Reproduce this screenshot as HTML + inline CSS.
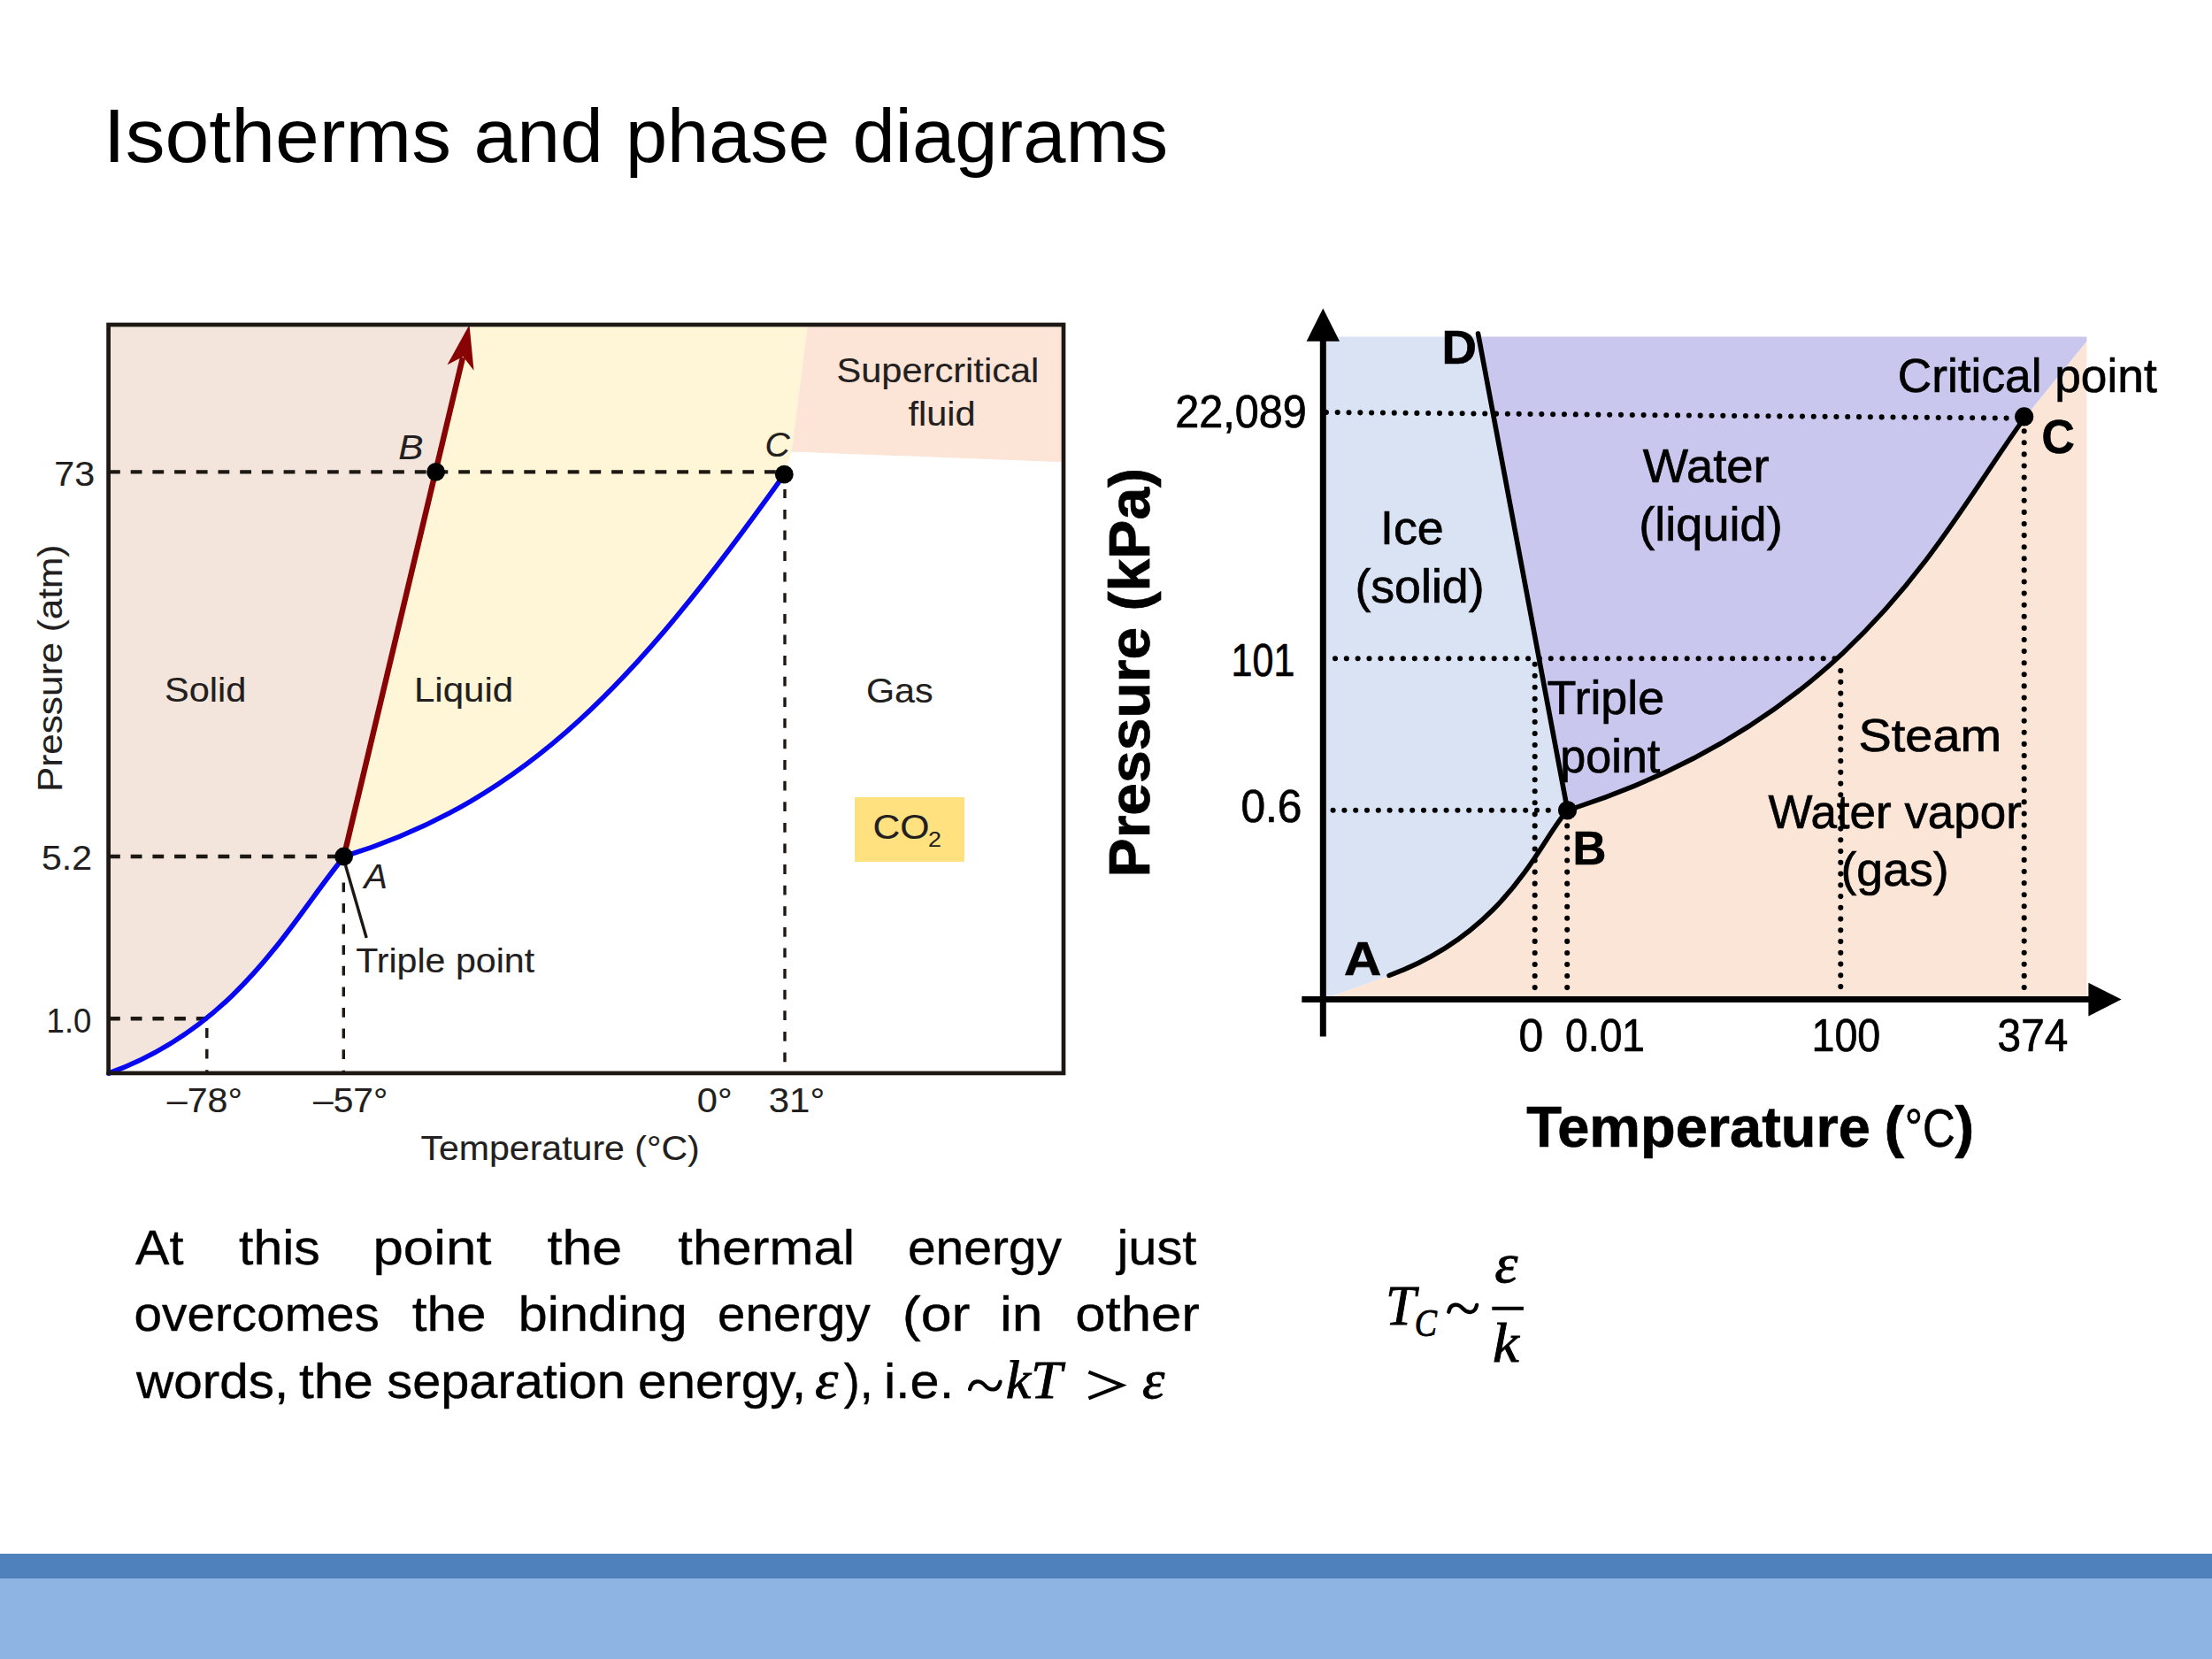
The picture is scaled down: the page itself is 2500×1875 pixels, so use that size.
<!DOCTYPE html>
<html lang="en">
<head>
<meta charset="utf-8">
<title>Isotherms and phase diagrams</title>
<style>
html,body{margin:0;padding:0;background:#fff;}
body{width:2500px;height:1875px;overflow:hidden;font-family:"Liberation Sans",sans-serif;}
svg{position:absolute;left:0;top:0;display:block;}
text{white-space:pre;}
.s{font-family:"Liberation Sans",sans-serif;}
.sb{font-family:"Liberation Sans",sans-serif;font-weight:bold;}
.si{font-family:"Liberation Sans",sans-serif;font-style:italic;}
.m{font-family:"Liberation Serif",serif;font-style:italic;}
.mr{font-family:"Liberation Serif",serif;}
</style>
</head>
<body>
<!-- Slide: "Isotherms and phase diagrams" : CO2 phase diagram (left), H2O phase diagram (right), caption + equation -->
<svg width="2500" height="1875" viewBox="0 0 2500 1875">
<rect x="0" y="0" width="2500" height="1875" fill="#ffffff"/>

<!-- FOOTER BARS -->
<rect x="0" y="1756" width="2500" height="28" fill="#4f81bd"/>
<rect x="0" y="1784" width="2500" height="91" fill="#8eb4e3"/>

<!-- TITLE -->
<g fill="#000">
<text class="s" font-size="85" x="116.8" y="182.5" textLength="393.2" lengthAdjust="spacingAndGlyphs">Isotherms</text>
<text class="s" font-size="85" x="535.4" y="182.5" textLength="146.4" lengthAdjust="spacingAndGlyphs">and</text>
<text class="s" font-size="85" x="707.0" y="182.5" textLength="230.8" lengthAdjust="spacingAndGlyphs">phase</text>
<text class="s" font-size="85" x="963.4" y="182.5" textLength="356.7" lengthAdjust="spacingAndGlyphs">diagrams</text>
</g>

<!-- LEFT DIAGRAM : CO2 phase diagram -->
<g id="co2">
<!-- filled regions -->
<path fill="#f3e5db" d="M122.5 366.5 L530.7 366.5 L388.6 968 C329.0 1040.9 269.9 1159.9 123.0 1213.0 Z"/>
<path fill="#fff5d7" d="M530.7 366.5 L912.9 366.5 L894.7 510.4 L886.3 536.4 C721.7 767.0 597.9 903.6 388.6 968.0 Z"/>
<path fill="#fce4d7" d="M912.9 366.5 L1201.5 366.5 L1201.5 522.2 L894.7 510.4 Z"/>
<rect x="966" y="901" width="124" height="73" fill="#ffe180"/>
<!-- dashed guide lines -->
<g fill="none" stroke="#1d1814" stroke-width="4.4" stroke-dasharray="12.8 11.9">
<path d="M123 533.4 H886"/>
<path d="M123 968 H388"/>
<path d="M123 1151.3 H236"/>
</g>
<g fill="none" stroke="#1d1814" stroke-width="3.4" stroke-dasharray="10.8 12.8">
<path d="M233.8 1162.1 V1212"/>
<path d="M388.3 997.4 V1212"/>
<path d="M887 1200.3 V553"/>
</g>
<!-- coexistence curves -->
<path fill="none" stroke="#0808f0" stroke-width="5.6" stroke-linecap="round" d="M123.0 1213.0 C269.9 1159.9 329.0 1040.9 388.8 968.4"/>
<path fill="none" stroke="#0808f0" stroke-width="5.6" d="M388.6 968.0 C597.9 903.6 721.7 767.0 886.3 536.4"/>
<!-- melting line with arrow -->
<path fill="none" stroke="#880404" stroke-width="6.4" d="M388.6 968 L523 404"/>
<path fill="#880404" d="M530.5 367 L535.5 418.7 L523.4 403 L505.5 412.2 Z"/>
<!-- frame -->
<rect x="122.6" y="367" width="1079.4" height="845.9" fill="none" stroke="#1d1814" stroke-width="4.7"/>
<!-- pointer -->
<path d="M390.5 978 L414.2 1060" stroke="#1d1814" stroke-width="3.4" fill="none"/>
<!-- points -->
<circle cx="492.6" cy="533.4" r="10.4" fill="#000"/>
<circle cx="886.3" cy="536.2" r="10.4" fill="#000"/>
<circle cx="388.6" cy="968" r="10.4" fill="#000"/>
<g fill="#231f20" stroke="#231f20" stroke-width="0.15">
<text class="s" font-size="39" x="61.3" y="548.8" textLength="45.9" lengthAdjust="spacingAndGlyphs">73</text>
<text class="s" font-size="39" x="47.1" y="982.5" textLength="56.9" lengthAdjust="spacingAndGlyphs">5.2</text>
<text class="s" font-size="39" x="52.6" y="1166.5" textLength="50.8" lengthAdjust="spacingAndGlyphs">1.0</text>
<text class="s" font-size="39" x="186.1" y="793.2" textLength="92.3" lengthAdjust="spacingAndGlyphs">Solid</text>
<text class="s" font-size="39" x="468.0" y="792.5" textLength="112.1" lengthAdjust="spacingAndGlyphs">Liquid</text>
<text class="s" font-size="39" x="978.9" y="793.5" textLength="75.7" lengthAdjust="spacingAndGlyphs">Gas</text>
<text class="s" font-size="39" x="945.5" y="432.0" textLength="228.8" lengthAdjust="spacingAndGlyphs">Supercritical</text>
<text class="s" font-size="39" x="1026.5" y="481.0" textLength="76.1" lengthAdjust="spacingAndGlyphs">fluid</text>
<text class="s" font-size="39" x="402.2" y="1099.0" textLength="201.9" lengthAdjust="spacingAndGlyphs">Triple point</text>
<text class="s" font-size="39" x="986.4" y="947.7" textLength="64.1" lengthAdjust="spacingAndGlyphs">CO</text>
<text class="s" font-size="39" x="188.8" y="1256.6" textLength="85.2" lengthAdjust="spacingAndGlyphs">–78°</text>
<text class="s" font-size="39" x="354.0" y="1256.6" textLength="84.3" lengthAdjust="spacingAndGlyphs">–57°</text>
<text class="s" font-size="39" x="787.8" y="1256.6" textLength="39.8" lengthAdjust="spacingAndGlyphs">0°</text>
<text class="s" font-size="39" x="868.8" y="1256.6" textLength="63.4" lengthAdjust="spacingAndGlyphs">31°</text>
<text class="s" font-size="39" x="475.5" y="1310.6" textLength="315.2" lengthAdjust="spacingAndGlyphs">Temperature (°C)</text>
<text class="s" font-size="24" x="1049.1" y="956.5" textLength="14.9" lengthAdjust="spacingAndGlyphs">2</text>
<text class="s" font-size="39" transform="translate(70.0 895.0) rotate(-90)" x="0" y="0" textLength="279.2" lengthAdjust="spacingAndGlyphs">Pressure (atm)</text>
<text class="si" font-size="38" x="450.2" y="518.5" textLength="28.2" lengthAdjust="spacingAndGlyphs">B</text>
<text class="si" font-size="38" x="864.6" y="516.0" textLength="28.3" lengthAdjust="spacingAndGlyphs">C</text>
<text class="si" font-size="38" x="411.6" y="1004.4" textLength="26.4" lengthAdjust="spacingAndGlyphs">A</text>
</g>
<rect x="30" y="1318.8" width="1190" height="24" fill="#fff"/>
</g>

<!-- RIGHT DIAGRAM : H2O phase diagram -->
<g id="h2o">
<path fill="#dae3f3" d="M1496 380.4 L1671.2 380.4 L1771.6 915.9 C1741.6 947.2 1706.2 1052.7 1570.0 1102.5 L1496 1129.3 Z"/>
<path fill="#c9c7ed" d="M1671.2 380.4 L2358.4 380.4 L2358.4 386 L2287.6 473 C2198.5 595.1 2100.7 811.6 1771.6 915.8 Z"/>
<path fill="#fbe5d6" d="M1496 1129.3 L1570 1102.5 C1706.2 1052.7 1741.6 947.2 1771.6 915.9 C2100.7 811.6 2198.5 595.1 2287.6 473.0 L2358.4 386 L2358.4 1129.3 Z"/>
<!-- dotted guides -->
<g fill="none" stroke="#000" stroke-width="6.1" stroke-linecap="round">
<path stroke-dasharray="0 12.812" d="M1498.9 466 L2268 472.6"/>
<path stroke-dasharray="0 12.83" d="M1509 744.3 H2076"/>
<path stroke-dasharray="0 12.8" d="M1506.6 915.7 H1762"/>
<path stroke-dasharray="0 13.05" d="M1734.7 1116.1 V744"/>
<path stroke-dasharray="0 13.05" d="M1771.2 1116.1 V930"/>
<path stroke-dasharray="0 12.75" d="M2080.3 1115.1 V750"/>
<path stroke-dasharray="0 13.1" d="M2287.7 1116 V486"/>
</g>
<!-- phase boundaries -->
<path fill="none" stroke="#000" stroke-width="5.6" stroke-linecap="round" d="M1670.5 377 L1771.6 915.8"/>
<path fill="none" stroke="#000" stroke-width="5.5" stroke-linecap="round" d="M1570.0 1102.5 C1706.2 1052.7 1741.6 947.2 1771.6 915.9"/>
<path fill="none" stroke="#000" stroke-width="5.4" stroke-linecap="round" d="M1771.6 915.8 C2100.7 811.6 2198.5 595.1 2287.6 473.0"/>
<!-- axes -->
<path d="M1495.3 1171.5 V384" stroke="#000" stroke-width="7" fill="none"/>
<path d="M1495.3 348.4 L1514 385.8 L1476.6 385.8 Z" fill="#000"/>
<path d="M1471.3 1129.5 H2362" stroke="#000" stroke-width="7" fill="none"/>
<path d="M2397.6 1129.4 L2360.4 1148.6 L2360.4 1110.8 Z" fill="#000"/>
<!-- points -->
<circle cx="1771.6" cy="915.8" r="10.6" fill="#000"/>
<circle cx="2287.7" cy="470.9" r="10.6" fill="#000"/>
<g fill="#000" stroke="#000" stroke-width="0.7">
<text class="s" font-size="51" x="1328.2" y="483.4" textLength="148.5" lengthAdjust="spacingAndGlyphs">22,089</text>
<text class="s" font-size="51" x="1391.6" y="763.8" textLength="71.8" lengthAdjust="spacingAndGlyphs">101</text>
<text class="s" font-size="51" x="1402.4" y="928.8" textLength="69.1" lengthAdjust="spacingAndGlyphs">0.6</text>
<text class="s" font-size="54" x="1560.0" y="614.8" textLength="71.8" lengthAdjust="spacingAndGlyphs">Ice</text>
<text class="s" font-size="54" x="1531.4" y="681.4" textLength="146.2" lengthAdjust="spacingAndGlyphs">(solid)</text>
<text class="s" font-size="54" x="1856.7" y="545.4" textLength="143.0" lengthAdjust="spacingAndGlyphs">Water</text>
<text class="s" font-size="54" x="1852.3" y="610.5" textLength="162.4" lengthAdjust="spacingAndGlyphs">(liquid)</text>
<text class="s" font-size="54" x="2144.8" y="443.3" textLength="292.9" lengthAdjust="spacingAndGlyphs">Critical point</text>
<text class="s" font-size="54" x="1748.5" y="807.3" textLength="132.8" lengthAdjust="spacingAndGlyphs">Triple</text>
<text class="s" font-size="54" x="1763.2" y="873.0" textLength="113.1" lengthAdjust="spacingAndGlyphs">point</text>
<text class="s" font-size="52" x="2100.6" y="849.2" textLength="161.4" lengthAdjust="spacingAndGlyphs">Steam</text>
<text class="s" font-size="54" x="1998.4" y="936.0" textLength="286.5" lengthAdjust="spacingAndGlyphs">Water vapor</text>
<text class="s" font-size="54" x="2080.5" y="1001.0" textLength="122.2" lengthAdjust="spacingAndGlyphs">(gas)</text>
<text class="s" font-size="51" x="1716.4" y="1187.8" textLength="27.7" lengthAdjust="spacingAndGlyphs">0</text>
<text class="s" font-size="51" x="1769.1" y="1187.8" textLength="90.0" lengthAdjust="spacingAndGlyphs">0.01</text>
<text class="s" font-size="51" x="2047.5" y="1187.8" textLength="77.8" lengthAdjust="spacingAndGlyphs">100</text>
<text class="s" font-size="51" x="2257.6" y="1187.8" textLength="79.7" lengthAdjust="spacingAndGlyphs">374</text>
<text class="sb" font-size="54" x="1629.5" y="410.8" textLength="39.4" lengthAdjust="spacingAndGlyphs">D</text>
<text class="sb" font-size="54" x="1519.0" y="1101.6" textLength="42.2" lengthAdjust="spacingAndGlyphs">A</text>
<text class="sb" font-size="54" x="1777.4" y="976.6" textLength="37.9" lengthAdjust="spacingAndGlyphs">B</text>
<text class="sb" font-size="54" x="2307.4" y="511.6" textLength="37.3" lengthAdjust="spacingAndGlyphs">C</text>
<text class="sb" font-size="64" x="1725.3" y="1296.4" textLength="388.6" lengthAdjust="spacingAndGlyphs">Temperature</text>
<text class="sb" font-size="64" x="2129.5" y="1296.4" textLength="22.7" lengthAdjust="spacingAndGlyphs">(</text>
<text class="s" font-size="61" x="2152.7" y="1296.4" textLength="57.0" lengthAdjust="spacingAndGlyphs">°C</text>
<text class="sb" font-size="64" x="2209.6" y="1296.4" textLength="21.6" lengthAdjust="spacingAndGlyphs">)</text>
<text class="sb" font-size="64" transform="translate(1299.0 991.4) rotate(-90)" x="0" y="0" textLength="462.5" lengthAdjust="spacingAndGlyphs">Pressure (kPa)</text>
</g>
</g>

<!-- PARAGRAPH -->
<g id="para" fill="#000" stroke="#000" stroke-width="0.4">
<text class="s" font-size="56" x="153.0" y="1429.2" textLength="54.4" lengthAdjust="spacingAndGlyphs">At</text>
<text class="s" font-size="56" x="270.0" y="1429.2" textLength="91.8" lengthAdjust="spacingAndGlyphs">this</text>
<text class="s" font-size="56" x="421.5" y="1429.2" textLength="133.9" lengthAdjust="spacingAndGlyphs">point</text>
<text class="s" font-size="56" x="618.5" y="1429.2" textLength="84.6" lengthAdjust="spacingAndGlyphs">the</text>
<text class="s" font-size="56" x="766.3" y="1429.2" textLength="199.7" lengthAdjust="spacingAndGlyphs">thermal</text>
<text class="s" font-size="56" x="1025.9" y="1429.2" textLength="174.1" lengthAdjust="spacingAndGlyphs">energy</text>
<text class="s" font-size="56" x="1262.5" y="1429.2" textLength="89.9" lengthAdjust="spacingAndGlyphs">just</text>
<text class="s" font-size="56" x="151.6" y="1504.1" textLength="277.2" lengthAdjust="spacingAndGlyphs">overcomes</text>
<text class="s" font-size="56" x="465.8" y="1504.1" textLength="83.8" lengthAdjust="spacingAndGlyphs">the</text>
<text class="s" font-size="56" x="585.8" y="1504.1" textLength="191.0" lengthAdjust="spacingAndGlyphs">binding</text>
<text class="s" font-size="56" x="811.1" y="1504.1" textLength="172.6" lengthAdjust="spacingAndGlyphs">energy</text>
<text class="s" font-size="56" x="1019.8" y="1504.1" textLength="76.6" lengthAdjust="spacingAndGlyphs">(or</text>
<text class="s" font-size="56" x="1129.9" y="1504.1" textLength="48.5" lengthAdjust="spacingAndGlyphs">in</text>
<text class="s" font-size="56" x="1215.2" y="1504.1" textLength="140.7" lengthAdjust="spacingAndGlyphs">other</text>
<text class="s" font-size="56" x="153.9" y="1579.9" textLength="172.3" lengthAdjust="spacingAndGlyphs">words,</text>
<text class="s" font-size="56" x="338.1" y="1579.9" textLength="83.8" lengthAdjust="spacingAndGlyphs">the</text>
<text class="s" font-size="56" x="437.3" y="1579.9" textLength="269.5" lengthAdjust="spacingAndGlyphs">separation</text>
<text class="s" font-size="56" x="721.0" y="1579.9" textLength="190.3" lengthAdjust="spacingAndGlyphs">energy,</text>
<text class="s" font-size="56" x="953.7" y="1579.9" textLength="33.1" lengthAdjust="spacingAndGlyphs">),</text>
<text class="s" font-size="56" x="998.9" y="1579.9" textLength="79.3" lengthAdjust="spacingAndGlyphs">i.e.</text>
</g>
<g fill="#000" stroke="#000" stroke-width="0.9">
<text class="m" font-size="62" x="921.0" y="1579.9" textLength="26.2" lengthAdjust="spacingAndGlyphs">ε</text>
<text class="m" font-size="62" x="1136.8" y="1579.9" textLength="63.6" lengthAdjust="spacingAndGlyphs">kT</text>
<text class="m" font-size="62" x="1291.0" y="1579.9" textLength="25.3" lengthAdjust="spacingAndGlyphs">ε</text>
</g>
<g>
<path fill="none" stroke="#000" stroke-width="4.4" stroke-linecap="round" d="M1096.1 1570.1 C1098.6 1558.9 1107.9 1559.7 1113.3 1565.9 S1128.0 1572.9 1130.5 1561.7"/>
<path fill="none" stroke="#000" stroke-width="4.2" stroke-linejoin="miter" stroke-miterlimit="10" d="M1230.4 1550.6 L1268 1565.6 L1230.4 1580.4"/>
</g>

<!-- EQUATION -->
<g id="eq" fill="#000" stroke="#000" stroke-width="0.9">
<text class="m" font-size="63" x="1566.1" y="1496.7" textLength="34.1" lengthAdjust="spacingAndGlyphs">T</text>
<text class="m" font-size="45" x="1598.7" y="1510.2" textLength="25.2" lengthAdjust="spacingAndGlyphs">C</text>
<text class="m" font-size="63" x="1689.3" y="1449.3" textLength="26.1" lengthAdjust="spacingAndGlyphs">ε</text>
<text class="m" font-size="63" x="1686.9" y="1538.9" textLength="29.7" lengthAdjust="spacingAndGlyphs">k</text>
<rect x="1686.3" y="1476.8" width="35.6" height="4" stroke="none"/>
<path fill="none" stroke="#000" stroke-width="4.4" stroke-linecap="round" d="M1637.3 1482.7 C1639.4 1472.3 1648.1 1473.1 1653.2 1478.8 S1667.0 1485.3 1669.1 1474.9"/>
</g>

</svg>
</body>
</html>
